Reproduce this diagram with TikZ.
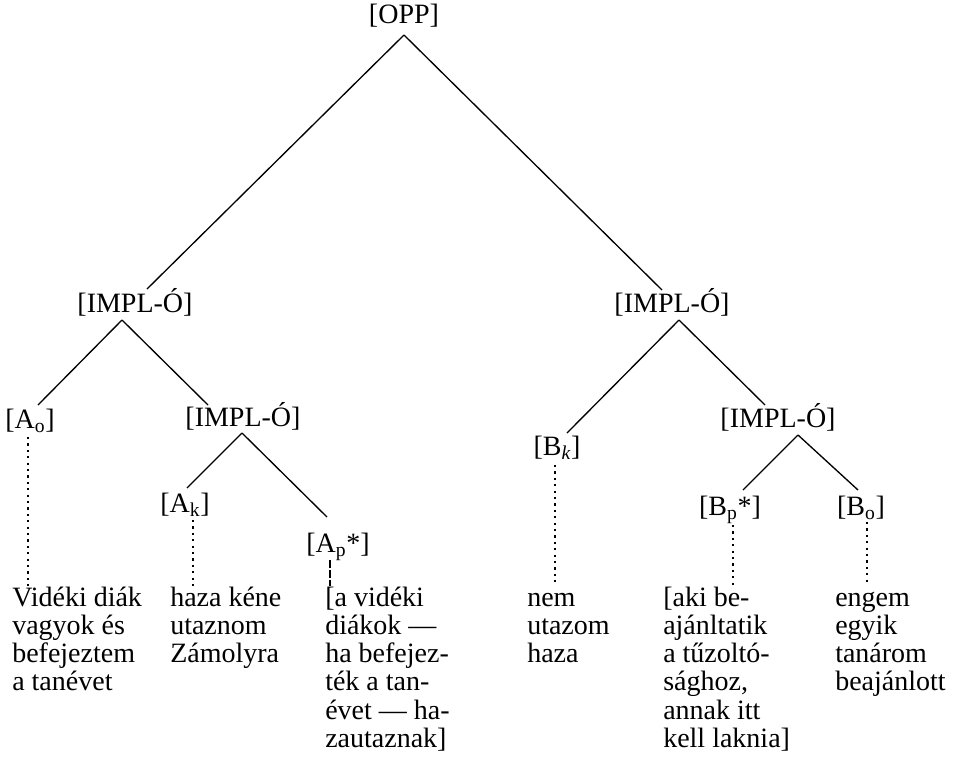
\documentclass[tikz,border=0pt]{standalone}
\usepackage{fontspec}
\setmainfont{Liberation Serif}
\usetikzlibrary{calc}
\begin{document}
\begin{tikzpicture}[x=0.75pt,y=-0.75pt,
  lab/.style={inner sep=0pt,anchor=base,font=\fontsize{21}{21.2}\selectfont},
  txt/.style={inner sep=0pt,anchor=base west,font=\fontsize{21}{21.2}\selectfont},
  edge/.style={line width=1pt},
  dotline/.style={line width=1.8pt,dash pattern=on 1.6pt off 3.2pt},
  thinline/.style={line width=1pt,dash pattern=on 6pt off 1.5pt}]
\useasboundingbox (0,0) rectangle (960,758);
% labels
\node[lab] (opp) at (404,23) {[OPP]};
\node[lab] (il) at (135,312) {[IMPL-Ó]};
\node[lab] (ir) at (672,312) {[IMPL-Ó]};
\node[lab] (ao) at (30,428) {[A\textsubscript{o}]};
\node[lab] (ilc) at (243,426) {[IMPL-Ó]};
\node[lab] (ak) at (185,512) {[A\textsubscript{k}]};
\node[lab] (ap) at (338,552) {[A\textsubscript{p}*]};
\node[lab] (bk) at (557,455) {[B\textsubscript{\itshape k}]};
\node[lab] (irc) at (778,427) {[IMPL-Ó]};
\node[lab] (bp) at (730,515) {[B\textsubscript{p}*]};
\node[lab] (bo) at (861,515) {[B\textsubscript{o}]};
% texts
\node[txt] (t1) at (12,606) {\begin{tabular}[t]{@{}l@{}}Vidéki diák\\vagyok és\\befejeztem\\a tanévet\end{tabular}};
\node[txt] (t2) at (170,606) {\begin{tabular}[t]{@{}l@{}}haza kéne\\utaznom\\Zámolyra\end{tabular}};
\node[txt] (t3) at (325,606) {\begin{tabular}[t]{@{}l@{}}[a vidéki\\diákok —\\ha befejez-\\ték a tan-\\évet — ha-\\zautaznak]\end{tabular}};
\node[txt] (t4) at (527,606) {\begin{tabular}[t]{@{}l@{}}nem\\utazom\\haza\end{tabular}};
\node[txt] (t5) at (663,606) {\begin{tabular}[t]{@{}l@{}}[aki be-\\ajánltatik\\a tűzoltó-\\sághoz,\\annak itt\\kell laknia]\end{tabular}};
\node[txt] (t6) at (835,606) {\begin{tabular}[t]{@{}l@{}}engem\\egyik\\tanárom\\beajánlott\end{tabular}};
% tree edges
\draw[edge] ($(opp.base)+(0,12)$) -- ($(il.base)+(12,-23)$);
\draw[edge] ($(opp.base)+(0,12)$) -- ($(ir.base)+(-10,-22)$);
\draw[edge] ($(il.base)+(-13,8)$) -- ($(ao.base)+(8,-23)$);
\draw[edge] ($(il.base)+(-13,8)$) -- ($(ilc.base)+(-35,-21)$);
\draw[edge] ($(ilc.base)+(-1,7)$) -- ($(ak.base)+(2,-24)$);
\draw[edge] ($(ilc.base)+(-1,7)$) -- ($(ap.base)+(-11,-35)$);
\draw[edge] ($(ir.base)+(7,8)$) -- ($(bk.base)+(10,-22)$);
\draw[edge] ($(ir.base)+(7,8)$) -- ($(irc.base)+(-13,-22)$);
\draw[edge] ($(irc.base)+(20,8)$) -- ($(bp.base)+(13,-25)$);
\draw[edge] ($(irc.base)+(20,8)$) -- ($(bo.base)+(-3,-25)$);
% leaf connectors
\coordinate (aod) at ($(ao.base)+(-2,9)$);
\coordinate (akd) at ($(ak.base)+(8,8)$);
\coordinate (apd) at ($(ap.base)+(-8,8)$);
\coordinate (bkd) at ($(bk.base)+(-2,10)$);
\coordinate (bpd) at ($(bp.base)+(3,10)$);
\coordinate (bod) at ($(bo.base)+(6,7)$);
\draw[dotline] (aod) -- (aod |- t1.north);
\draw[dotline] (akd) -- (akd |- t2.north);
\draw[thinline] (apd) -- (apd |- t3.north);
\draw[dotline] (bkd) -- (bkd |- t4.north);
\draw[dotline] (bpd) -- (bpd |- t5.north);
\draw[dotline] (bod) -- (bod |- t6.north);
\end{tikzpicture}
\end{document}
